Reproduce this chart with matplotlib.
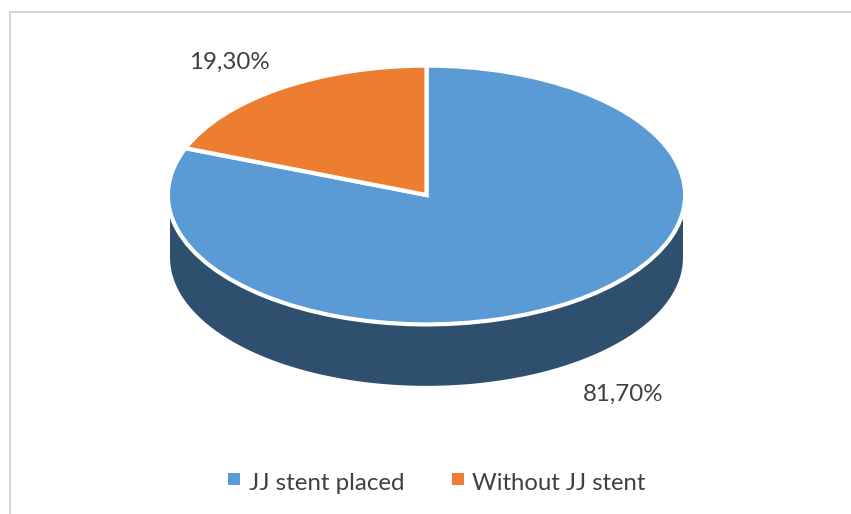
import numpy as np
import matplotlib
matplotlib.use('Agg')
import matplotlib.pyplot as plt
from matplotlib.patches import Polygon, Rectangle

categories = ['JJ stent placed', 'Without JJ stent']
values = [81.70, 19.30]
value_labels = ['81,70%', '19,30%']
colors = ['#5B9BD5', '#ED7D31']
side_color = '#2E4F6E'
text_color = '#404040'

W, H = 851, 514
cx, cy = 426.5, 195   # pie centre, pixels
edge = 2.1            # half of the white outline, pixels
rx, ry = 256.5 + edge, 127.3 + edge
depth = 62.5 / ry     # wall height in axes units
wall_x = 256.5 / rx   # wall is as wide as the visible face, not the white outline

plt.rcParams['font.family'] = ['Lato', 'DejaVu Sans']

fig = plt.figure(figsize=(W / 100, H / 100), dpi=100)
ax = fig.add_axes([0, 0, 1, 1])

wedges, _ = ax.pie(values, colors=colors, startangle=90, counterclock=False,
                   wedgeprops={'edgecolor': 'white', 'linewidth': 3.0, 'zorder': 3})

# pie is squashed by the axes limits, so unit circle becomes the ellipse
ax.set_aspect('auto')
ax.set_xlim(-cx / rx, (W - cx) / rx)
ax.set_ylim((cy - H) / ry, cy / ry)
ax.axis('off')

# side wall below the front half
theta = np.linspace(np.pi, 2 * np.pi, 200)
top = np.column_stack([wall_x * np.cos(theta), wall_x * np.sin(theta)])
bottom = top[::-1] - [0, depth]
ax.add_patch(Polygon(np.vstack([top, bottom]), closed=True, facecolor=side_color,
                     edgecolor='none', zorder=1))

# chart frame
fig.add_artist(Rectangle((10 / W, -0.02), 1, 1 - 12 / H + 0.02, transform=fig.transFigure,
                         facecolor='none', edgecolor='#D0D0D0', linewidth=1.3))

fig.text(229.5 / W, 1 - 62 / H, value_labels[1], ha='center', va='center',
         fontsize=17.4, color=text_color)
fig.text(623.5 / W, 1 - 394 / H, value_labels[0], ha='center', va='center',
         fontsize=17.4, color=text_color)

# legend
fig.add_artist(Rectangle((228 / W, 1 - 485 / H), 12 / W, 12 / H, transform=fig.transFigure,
                         facecolor=colors[0], edgecolor='none'))
fig.add_artist(Rectangle((452 / W, 1 - 485 / H), 12 / W, 12 / H, transform=fig.transFigure,
                         facecolor=colors[1], edgecolor='none'))
fig.text(249 / W, 1 - 483 / H, categories[0], ha='left', va='center',
         fontsize=17.4, color=text_color)
fig.text(472.5 / W, 1 - 483 / H, categories[1], ha='left', va='center',
         fontsize=17.2, color=text_color)

fig.savefig('out.png', dpi=100)
